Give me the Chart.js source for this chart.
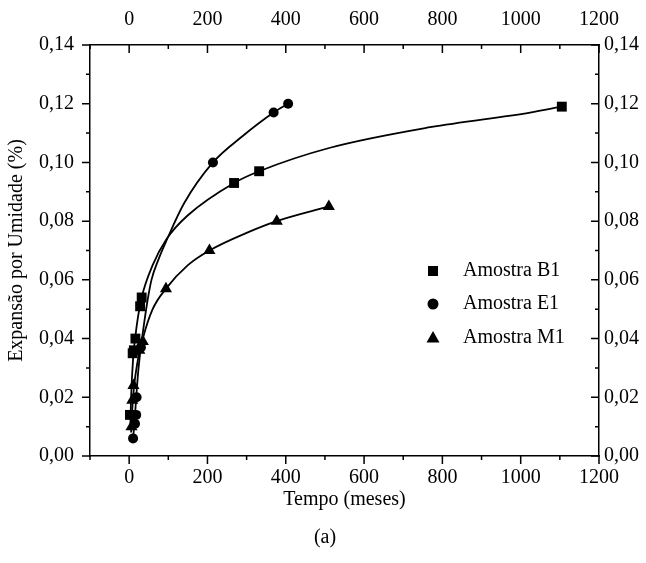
<!DOCTYPE html>
<html><head><meta charset="utf-8">
<script src="https://cdn.jsdelivr.net/npm/chart.js@4/dist/chart.umd.min.js"></script>
<style>html,body{margin:0;padding:0;background:#fff}#wrap{width:646px;height:563px}</style>
</head><body><div id="wrap"><canvas id="c" width="646" height="563"></canvas></div>
<script>
// ---- data ----
const xTicks = [0, 200, 400, 600, 800, 1000, 1200];
const xMinorTicks = [-100, 100, 300, 500, 700, 900, 1100];
const yTicks = [0, 0.02, 0.04, 0.06, 0.08, 0.10, 0.12, 0.14];
const yMinorTicks = [0.01, 0.03, 0.05, 0.07, 0.09, 0.11, 0.13];
const seriesNames = ['Amostra B1', 'Amostra E1', 'Amostra M1'];

// measured points
const b1Time = [2, 9, 12, 16, 28, 32, 268, 332, 1105];
const b1Exp  = [0.014, 0.035, 0.036, 0.040, 0.051, 0.054, 0.093, 0.097, 0.119];
const e1Time = [10, 15, 18, 19, 30, 214, 369, 406];
const e1Exp  = [0.006, 0.011, 0.014, 0.020, 0.037, 0.100, 0.117, 0.120];
const m1Time = [6, 8, 11, 26, 35, 94, 205, 377, 510];
const m1Exp  = [0.010, 0.019, 0.024, 0.036, 0.039, 0.057, 0.070, 0.080, 0.085];

// fitted curves
const b1CurveTime = [3, 5, 10, 20, 32, 60, 96, 150, 268, 332, 513, 769, 1024, 1105];
const b1CurveExp  = [0.010, 0.020, 0.033, 0.045, 0.054, 0.065, 0.074, 0.082, 0.093, 0.097, 0.105, 0.112, 0.117, 0.119];
const e1CurveTime = [10, 14, 18, 24, 30, 38, 47, 57, 75, 96, 140, 214, 290, 369, 406];
const e1CurveExp  = [0.006, 0.012, 0.020, 0.030, 0.037, 0.045, 0.053, 0.060, 0.067, 0.0736, 0.086, 0.100, 0.109, 0.117, 0.120];
const m1CurveTime = [5, 8, 12, 20, 35, 60, 94, 150, 205, 300, 377, 510];
const m1CurveExp  = [0.008, 0.016, 0.023, 0.031, 0.040, 0.050, 0.057, 0.065, 0.070, 0.076, 0.080, 0.085];

const pts = (xs, ys) => xs.map((x, i) => ({x: x, y: ys[i]}));
const FONT = 'Liberation Serif, Times New Roman, serif';
const FS = 20;

function curve(xs, ys) {
  return { data: pts(xs, ys), showLine: true, borderColor: '#000', borderWidth: 1.8,
    pointRadius: 0, pointHoverRadius: 0, cubicInterpolationMode: 'monotone', fill: false, order: 2 };
}
function marks(label, xs, ys, style, r) {
  return { label: label, data: pts(xs, ys), showLine: false, pointStyle: style, pointRadius: r,
    backgroundColor: '#000', borderColor: '#000', borderWidth: 0, order: 1 };
}

const tickPlugin = {
  id: 'ticksAndLegend',
  afterDraw(chart) {
    const ctx = chart.ctx;
    const a = chart.chartArea;
    const xs = chart.scales.x, ys = chart.scales.y;
    ctx.save();
    ctx.strokeStyle = '#000';
    ctx.lineWidth = 1.5;
    const MAJ = 8, MIN = 4;
    ctx.beginPath();
    xTicks.forEach(v => { const p = xs.getPixelForValue(v);
      ctx.moveTo(p, a.bottom); ctx.lineTo(p, a.bottom + MAJ);
      ctx.moveTo(p, a.top); ctx.lineTo(p, a.top + MAJ); });
    xMinorTicks.forEach(v => { const p = xs.getPixelForValue(v);
      ctx.moveTo(p, a.bottom); ctx.lineTo(p, a.bottom + MIN);
      ctx.moveTo(p, a.top); ctx.lineTo(p, a.top + MIN); });
    yTicks.forEach(v => { const p = ys.getPixelForValue(v);
      ctx.moveTo(a.left, p); ctx.lineTo(a.left - MAJ, p);
      ctx.moveTo(a.right, p); ctx.lineTo(a.right - MAJ, p); });
    yMinorTicks.forEach(v => { const p = ys.getPixelForValue(v);
      ctx.moveTo(a.left, p); ctx.lineTo(a.left - MIN, p);
      ctx.moveTo(a.right, p); ctx.lineTo(a.right - MIN, p); });
    ctx.stroke();

    // legend
    const lx = 433, ly = [271, 304, 338];
    ctx.fillStyle = '#000';
    ctx.fillRect(lx - 5, ly[0] - 5, 10, 10);
    ctx.beginPath(); ctx.arc(lx, ly[1], 5.5, 0, Math.PI * 2); ctx.fill();
    ctx.beginPath(); ctx.moveTo(lx, ly[2] - 7); ctx.lineTo(lx + 6.5, ly[2] + 4.5); ctx.lineTo(lx - 6.5, ly[2] + 4.5); ctx.closePath(); ctx.fill();
    ctx.font = FS + 'px ' + FONT;
    ctx.textBaseline = 'middle';
    ctx.textAlign = 'left';
    seriesNames.forEach((n, i) => ctx.fillText(n, 463, ly[i]));
    // caption
    ctx.textAlign = 'center';
    ctx.fillText('(a)', 325, 538);
    ctx.restore();
  }
};

const fmtY = v => v.toFixed(2).replace('.', ',');
const fmtX = v => String(v);

new Chart(document.getElementById('c'), {
  type: 'scatter',
  data: { datasets: [
    curve(b1CurveTime, b1CurveExp),
    curve(e1CurveTime, e1CurveExp),
    curve(m1CurveTime, m1CurveExp),
    marks(seriesNames[0], b1Time, b1Exp, 'rect', 7),
    marks(seriesNames[1], e1Time, e1Exp, 'circle', 5),
    marks(seriesNames[2], m1Time, m1Exp, 'triangle', 7)
  ]},
  options: {
    responsive: false, animation: false, devicePixelRatio: 1,
    layout: { padding: 0 },
    plugins: { legend: { display: false }, tooltip: { enabled: false } },
    scales: {
      x: { type: 'linear', position: 'bottom', min: -100, max: 1200,
        afterBuildTicks: s => { s.ticks = xTicks.map(v => ({value: v})); },
        afterFit: s => { s.height = 107; },
        grid: { display: true, drawOnChartArea: false, drawTicks: false },
        border: { display: true, color: '#000', width: 1.5 },
        ticks: { color: '#000', font: { family: FONT, size: FS }, padding: 10, maxRotation: 0, callback: fmtX },
        title: { display: true, text: 'Tempo (meses)', color: '#000', font: { family: FONT, size: FS }, padding: { top: 0, bottom: 51 } } },
      x2: { type: 'linear', position: 'top', min: -100, max: 1200,
        afterBuildTicks: s => { s.ticks = xTicks.map(v => ({value: v})); },
        afterFit: s => { s.height = 45; },
        grid: { display: true, drawOnChartArea: false, drawTicks: false },
        border: { display: true, color: '#000', width: 1.5 },
        ticks: { color: '#000', font: { family: FONT, size: FS }, padding: 13, maxRotation: 0, callback: fmtX } },
      y: { type: 'linear', position: 'left', min: 0, max: 0.14,
        afterBuildTicks: s => { s.ticks = yTicks.map(v => ({value: v})); },
        afterFit: s => { s.width = 90; },
        grid: { display: true, drawOnChartArea: false, drawTicks: false },
        border: { display: true, color: '#000', width: 1.5 },
        ticks: { color: '#000', font: { family: FONT, size: FS }, padding: 16, callback: fmtY },
        title: { display: true, text: 'Expansão por Umidade (%)', color: '#000', font: { family: FONT, size: FS }, padding: { top: 5, bottom: 0 } } },
      y2: { type: 'linear', position: 'right', min: 0, max: 0.14,
        afterBuildTicks: s => { s.ticks = yTicks.map(v => ({value: v})); },
        afterFit: s => { s.width = 47; },
        grid: { display: true, drawOnChartArea: false, drawTicks: false },
        border: { display: true, color: '#000', width: 1.5 },
        ticks: { color: '#000', font: { family: FONT, size: FS }, padding: 5, callback: fmtY } }
    }
  },
  plugins: [tickPlugin]
});
</script>
</body></html>
